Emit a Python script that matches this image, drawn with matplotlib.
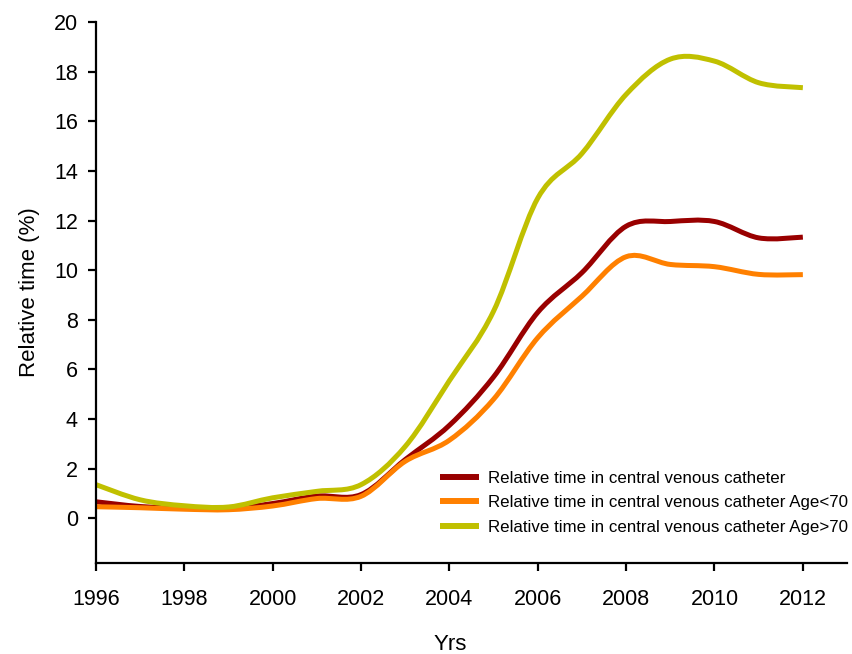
import numpy as np
import matplotlib
matplotlib.use("Agg")
import matplotlib.pyplot as plt
from matplotlib.path import Path
from matplotlib.patches import PathPatch
from matplotlib.lines import Line2D

plt.rcParams['font.family'] = ['Liberation Sans', 'DejaVu Sans']

# yearly values, relative time (%)
years = [1996, 1997, 1998, 1999, 2000, 2001, 2002, 2003, 2004,
         2005, 2006, 2007, 2008, 2009, 2010, 2011, 2012]
cvc_all = [0.67, 0.48, 0.42, 0.4, 0.6, 0.9, 0.96, 2.37, 3.75,
           5.7, 8.3, 9.9, 11.77, 11.96, 11.96, 11.3, 11.33]
cvc_young = [0.47, 0.43, 0.37, 0.35, 0.5, 0.8, 0.89, 2.3, 3.15,
             4.8, 7.28, 8.95, 10.54, 10.23, 10.14, 9.83, 9.82]
cvc_old = [1.36, 0.75, 0.51, 0.46, 0.83, 1.09, 1.36, 2.9, 5.55,
           8.35, 12.9, 14.7, 17.08, 18.5, 18.42, 17.55, 17.35]
labels = ['Relative time in central venous catheter',
          'Relative time in central venous catheter Age<70',
          'Relative time in central venous catheter Age>70']
colors = ['#990000', '#FF8000', '#C0C000']


def smooth_path(x, y):
    # Catmull-Rom style bezier through the points (like a spreadsheet "smoothed line")
    pts = np.column_stack([x, y]).astype(float)
    ext = np.vstack([pts[0], pts, pts[-1]])
    verts = [pts[0]]
    codes = [Path.MOVETO]
    for i in range(1, len(ext) - 2):
        p0, p1, p2, p3 = ext[i - 1], ext[i], ext[i + 1], ext[i + 2]
        c1 = p1 + (p2 - p0) / 6.0
        c2 = p2 - (p3 - p1) / 6.0
        verts += [c1, c2, p2]
        codes += [Path.CURVE4] * 3
    return Path(verts, codes)


fig = plt.figure(figsize=(8.53, 6.54), dpi=100)
ax = fig.add_axes([0.1125, 0.139, 0.8805, 0.8275])

handles = []
for ys, c, lab in zip([cvc_all, cvc_young, cvc_old], colors, labels):
    patch = PathPatch(smooth_path(years, ys), facecolor='none', edgecolor=c,
                      lw=3.6, capstyle='butt', joinstyle='round')
    ax.add_patch(patch)
    handles.append(Line2D([], [], color=c, lw=4.3, solid_capstyle='butt', label=lab))

ax.set_xlim(1996, 2013)
ax.set_ylim(-1.8, 20)
ax.set_xticks(range(1996, 2013, 2))
ax.set_yticks(range(0, 21, 2))
for s in ['top', 'right']:
    ax.spines[s].set_visible(False)
for s in ['left', 'bottom']:
    ax.spines[s].set_linewidth(1.6)
ax.tick_params(axis='both', direction='out', width=1.6, length=6, labelsize=15.5)
ax.tick_params(axis='x', pad=13)
ax.tick_params(axis='y', pad=7)

ax.set_ylabel('Relative time (%)', fontsize=16, labelpad=10)
ax.set_xlabel('Yrs', fontsize=16)
ax.xaxis.set_label_coords(0.471, -0.131)

fig.legend(handles=handles, loc='upper left', bbox_to_anchor=(0.516, 0.28),
           frameon=False, fontsize=12.2, handlelength=2.3, handletextpad=0.55,
           labelspacing=0.55, borderpad=0, borderaxespad=0)

fig.savefig('out.png', dpi=100)
